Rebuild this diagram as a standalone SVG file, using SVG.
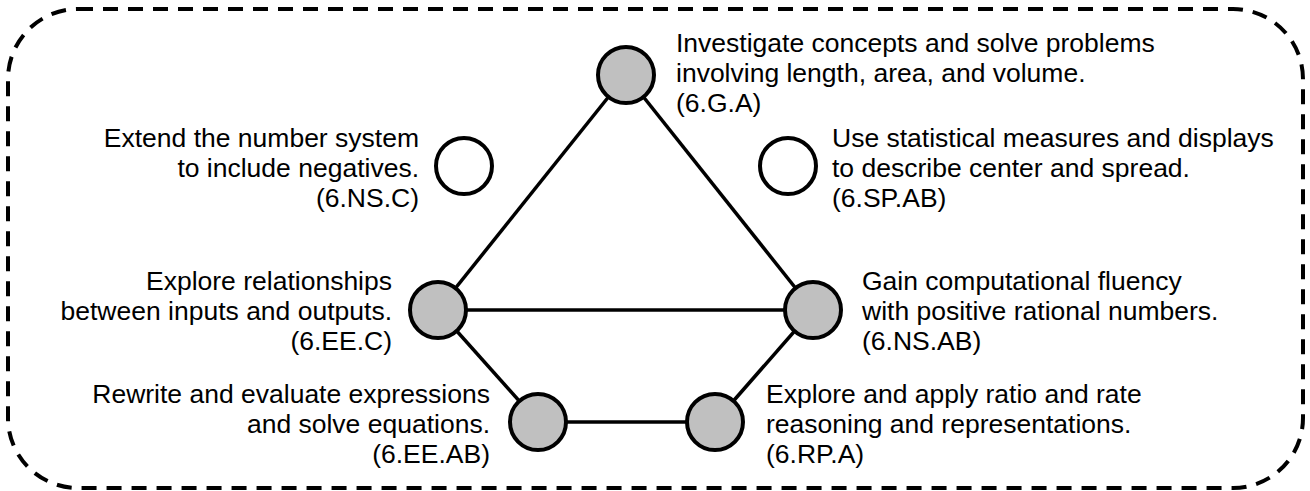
<svg xmlns="http://www.w3.org/2000/svg" width="1310" height="491" viewBox="0 0 1310 491">
<style>
.t{font-family:"Liberation Sans",Arial,Helvetica,sans-serif;font-size:26.5px;fill:#000}
.e{text-anchor:end}
.n{fill:#c0c0c0;stroke:#000;stroke-width:4}
.o{fill:#fff;stroke:#000;stroke-width:4}
.c{stroke:#000;stroke-width:3.5;fill:none}
</style>
<rect x="8" y="9" width="1295" height="479" rx="70" ry="70" fill="none" stroke="#000" stroke-width="4" stroke-dasharray="15 10"/>
<g id="connectors">
<line class="c" x1="626" y1="75" x2="438" y2="310"/>
<line class="c" x1="626" y1="75" x2="813" y2="310"/>
<line class="c" x1="438" y1="310" x2="813" y2="310"/>
<line class="c" x1="438" y1="310" x2="538" y2="422"/>
<line class="c" x1="538" y1="422" x2="715" y2="422"/>
<line class="c" x1="715" y1="422" x2="813" y2="310"/>
</g>
<g id="node-6GA">
<circle class="n" cx="626" cy="75" r="28"/>
<text class="t"><tspan x="676" y="52">Investigate concepts and solve problems</tspan><tspan x="676" y="82">involving length, area, and volume.</tspan><tspan x="676" y="112">(6.G.A)</tspan></text>
</g>
<g id="node-6NSC">
<circle class="o" cx="464" cy="166" r="28"/>
<text class="t e"><tspan x="419" y="147">Extend the number system</tspan><tspan x="419" y="177">to include negatives.</tspan><tspan x="419" y="207">(6.NS.C)</tspan></text>
</g>
<g id="node-6SPAB">
<circle class="o" cx="788" cy="166" r="28"/>
<text class="t"><tspan x="832" y="147">Use statistical measures and displays</tspan><tspan x="832" y="177">to describe center and spread.</tspan><tspan x="832" y="207">(6.SP.AB)</tspan></text>
</g>
<g id="node-6EEC">
<circle class="n" cx="438" cy="310" r="28"/>
<text class="t e"><tspan x="392" y="290">Explore relationships</tspan><tspan x="392" y="320">between inputs and outputs.</tspan><tspan x="392" y="350">(6.EE.C)</tspan></text>
</g>
<g id="node-6NSAB">
<circle class="n" cx="813" cy="310" r="28"/>
<text class="t"><tspan x="862" y="290">Gain computational fluency</tspan><tspan x="862" y="320">with positive rational numbers.</tspan><tspan x="862" y="350">(6.NS.AB)</tspan></text>
</g>
<g id="node-6EEAB">
<circle class="n" cx="538" cy="422" r="28"/>
<text class="t e"><tspan x="490" y="403">Rewrite and evaluate expressions</tspan><tspan x="490" y="433">and solve equations.</tspan><tspan x="490" y="463">(6.EE.AB)</tspan></text>
</g>
<g id="node-6RPA">
<circle class="n" cx="715" cy="422" r="28"/>
<text class="t"><tspan x="766" y="403">Explore and apply ratio and rate</tspan><tspan x="766" y="433">reasoning and representations.</tspan><tspan x="766" y="463">(6.RP.A)</tspan></text>
</g>
</svg>
